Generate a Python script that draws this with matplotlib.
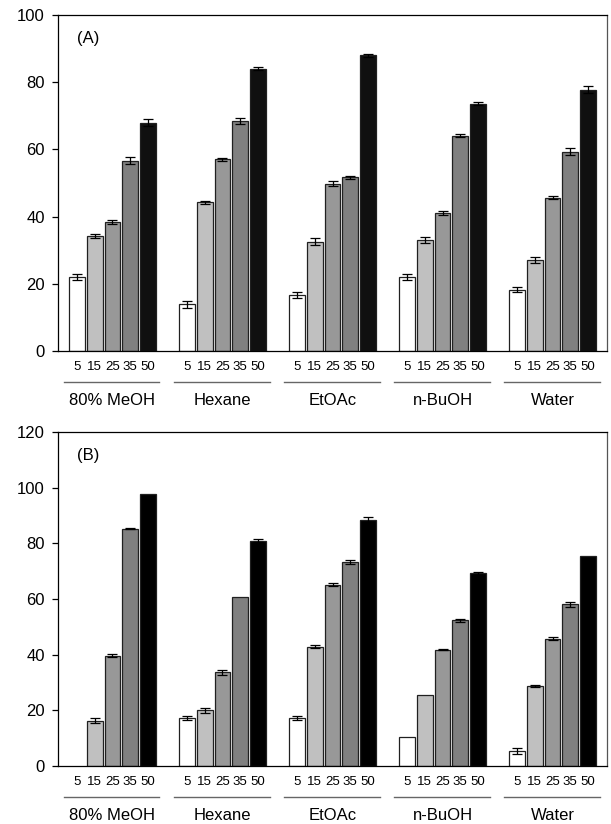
import matplotlib
matplotlib.use("Agg")
import matplotlib.pyplot as plt
import numpy as np

plt.rcParams['font.family'] = ['Liberation Sans', 'DejaVu Sans']

# Data
groups = ["80% MeOH", "Hexane", "EtOAc", "n-BuOH", "Water"]
doses = ["5", "15", "25", "35", "50"]

vals_a = [
    [22.0, 34.2, 38.4, 56.6, 68.0],
    [13.9, 44.2, 57.0, 68.5, 84.0],
    [16.7, 32.5, 49.8, 51.7, 88.0],
    [22.0, 33.0, 41.1, 64.1, 73.6],
    [18.3, 27.1, 45.6, 59.3, 77.8],
]
err_a = [
    [1.0, 0.6, 0.6, 1.0, 1.0],
    [1.0, 0.5, 0.4, 0.8, 0.5],
    [0.9, 1.0, 0.7, 0.4, 0.4],
    [0.9, 1.0, 0.6, 0.4, 0.5],
    [0.7, 1.0, 0.4, 1.1, 1.1],
]
vals_b = [
    [0.0, 16.3, 39.7, 85.3, 97.6],
    [17.3, 20.0, 33.6, 60.8, 81.0],
    [17.2, 42.8, 65.2, 73.2, 88.4],
    [10.5, 25.6, 41.8, 52.4, 69.3],
    [5.4, 28.7, 45.7, 58.1, 75.4],
]
err_b = [
    [0.0, 0.8, 0.6, 0.3, 0.0],
    [0.8, 1.0, 0.9, 0.0, 0.6],
    [0.6, 0.5, 0.4, 0.8, 0.9],
    [0.0, 0.0, 0.3, 0.5, 0.5],
    [1.2, 0.4, 0.5, 0.8, 0.0],
]

colors_a = ["white", "#c0c0c0", "#989898", "#808080", "#101010"]
colors_b = ["white", "#c0c0c0", "#989898", "#808080", "#000000"]

step = 6.2
width = 0.88

fig = plt.figure(figsize=(6.11, 8.24), dpi=100)
ax_a = fig.add_axes([58 / 611, 1 - 351 / 824, 549 / 611, 336 / 824])
ax_b = fig.add_axes([58 / 611, 1 - 766 / 824, 549 / 611, 334 / 824])


def draw_panel(ax, vals, errs, colors, ymax, label):
    for g in range(len(groups)):
        for i in range(len(doses)):
            x = g * step + i
            v = vals[g][i]
            if v <= 0:
                continue
            ax.bar(x, v, width=width, color=colors[i], edgecolor="#202020",
                   linewidth=0.9, zorder=2)
            if errs[g][i] > 0:
                ax.errorbar(x, v, yerr=errs[g][i], fmt="none", ecolor="black",
                            elinewidth=0.9, capsize=3.5, capthick=0.9, zorder=3)
    ax.set_xlim(-1.07, 4 * step + 4 + 1.07)
    ax.set_ylim(0, ymax)
    ax.set_yticks(np.arange(0, ymax + 1, 20))
    ax.tick_params(axis="y", direction="out", length=4.5, width=0.9,
                   labelsize=12, pad=5)
    ax.set_xticks([])
    for s in ax.spines.values():
        s.set_linewidth(0.9)
    ax.spines["right"].set_color("#555555")
    ax.text(0.035, 0.93, label, transform=ax.transAxes, fontsize=12,
            va="center", ha="left")

    trans = ax.get_xaxis_transform()
    for g, name in enumerate(groups):
        for i, d in enumerate(doses):
            ax.text(g * step + i, -0.048, d, transform=trans, ha="center",
                    va="center", fontsize=9.5, clip_on=False)
        ax.plot([g * step - 0.75, g * step + 4.65], [-0.092, -0.092],
                transform=trans, color="#666666", lw=1.0, clip_on=False)
        ax.text(g * step + 2, -0.148, name, transform=trans, ha="center",
                va="center", fontsize=12, clip_on=False)


draw_panel(ax_a, vals_a, err_a, colors_a, 100, "(A)")
draw_panel(ax_b, vals_b, err_b, colors_b, 120, "(B)")

fig.savefig("out.png", dpi=100)
